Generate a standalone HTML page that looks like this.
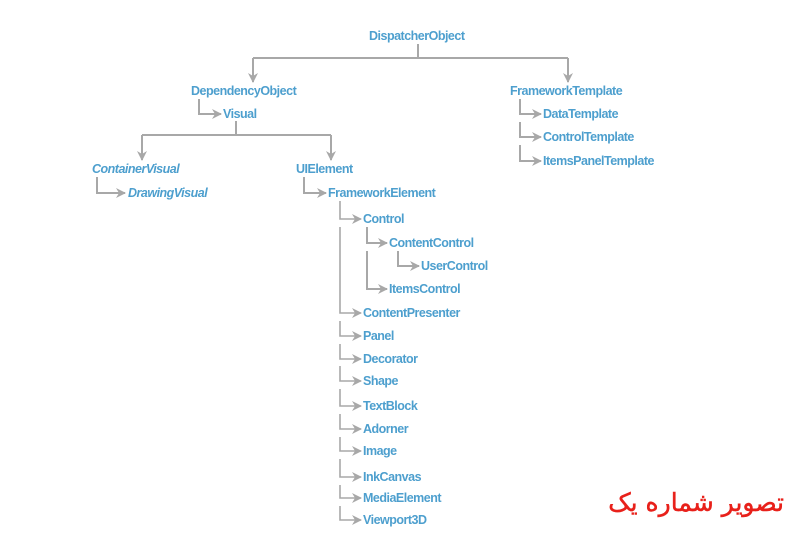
<!DOCTYPE html>
<html><head><meta charset="utf-8"><style>
html,body{margin:0;padding:0;background:#fff;width:812px;height:544px;overflow:hidden;position:relative}
text.t{font-family:"Liberation Sans",Arial,sans-serif;font-weight:bold;font-size:12.5px;fill:#4d9fce;letter-spacing:-0.5px}
text.i{font-style:italic}
#fa{position:absolute;right:28px;top:488px;font-family:"DejaVu Sans",sans-serif;font-size:25px;color:#e8201a;direction:rtl;white-space:nowrap;line-height:30px;-webkit-text-stroke:0.5px #e8201a}
</style></head><body>
<svg width="812" height="544" viewBox="0 0 812 544" xmlns="http://www.w3.org/2000/svg" style="position:absolute;left:0;top:0">
<defs>
<marker id="a" viewBox="0 0 10 10" refX="9" refY="5" markerWidth="10" markerHeight="10" orient="auto" markerUnits="userSpaceOnUse">
<path d="M0,0 L10,5 L0,10 L3,5 z" fill="#a8a8a8"/></marker>
</defs>
<g fill="none" stroke="#a8a8a8" stroke-width="2">
<path d="M418,44 V58 M253,58 H568"/>
<path d="M253,58 V82" marker-end="url(#a)"/>
<path d="M568,58 V82" marker-end="url(#a)"/>
<path d="M199,99 V114 H221" marker-end="url(#a)"/>
<path d="M236,121 V135 M142,135 H331"/>
<path d="M142,135 V160" marker-end="url(#a)"/>
<path d="M331,135 V160" marker-end="url(#a)"/>
<path d="M97,177 V193 H125" marker-end="url(#a)"/>
<path d="M304,177 V193 H326" marker-end="url(#a)"/>
<path d="M520,99 V114 H541" marker-end="url(#a)"/>
<path d="M520,122 V137 H541" marker-end="url(#a)"/>
<path d="M520,145 V161 H541" marker-end="url(#a)"/>
<path d="M367,227 V243 H387" marker-end="url(#a)"/>
<path d="M367,251 V289 H387" marker-end="url(#a)"/>
<path d="M398,251 V266 H419" marker-end="url(#a)"/>
</g>
<g fill="none" stroke="#a8a8a8" stroke-width="1.6">
<path d="M340,201 V219 H361" marker-end="url(#a)"/>
<path d="M340,227 V313 H361" marker-end="url(#a)"/>
<path d="M340,321 V336 H361" marker-end="url(#a)"/>
<path d="M340,344 V359 H361" marker-end="url(#a)"/>
<path d="M340,366 V381 H361" marker-end="url(#a)"/>
<path d="M340,389 V406 H361" marker-end="url(#a)"/>
<path d="M340,414 V429 H361" marker-end="url(#a)"/>
<path d="M340,437 V451 H361" marker-end="url(#a)"/>
<path d="M340,459 V477 H361" marker-end="url(#a)"/>
<path d="M340,485 V498 H361" marker-end="url(#a)"/>
<path d="M340,506 V520 H361" marker-end="url(#a)"/>
</g>
<text class="t" x="369" y="40">DispatcherObject</text>
<text class="t" x="191" y="95">DependencyObject</text>
<text class="t" x="223" y="118">Visual</text>
<text class="t i" x="92" y="173">ContainerVisual</text>
<text class="t i" x="128" y="197">DrawingVisual</text>
<text class="t" x="296" y="173">UIElement</text>
<text class="t" x="328" y="197">FrameworkElement</text>
<text class="t" x="363" y="223">Control</text>
<text class="t" x="389" y="247">ContentControl</text>
<text class="t" x="421" y="270">UserControl</text>
<text class="t" x="389" y="293">ItemsControl</text>
<text class="t" x="363" y="317">ContentPresenter</text>
<text class="t" x="363" y="340">Panel</text>
<text class="t" x="363" y="363">Decorator</text>
<text class="t" x="363" y="385">Shape</text>
<text class="t" x="363" y="410">TextBlock</text>
<text class="t" x="363" y="433">Adorner</text>
<text class="t" x="363" y="455">Image</text>
<text class="t" x="363" y="481">InkCanvas</text>
<text class="t" x="363" y="502">MediaElement</text>
<text class="t" x="363" y="524">Viewport3D</text>
<text class="t" x="510" y="95">FrameworkTemplate</text>
<text class="t" x="543" y="118">DataTemplate</text>
<text class="t" x="543" y="141">ControlTemplate</text>
<text class="t" x="543" y="165">ItemsPanelTemplate</text>
</svg>
<div id="fa">تصویر شماره یک</div>
</body></html>
